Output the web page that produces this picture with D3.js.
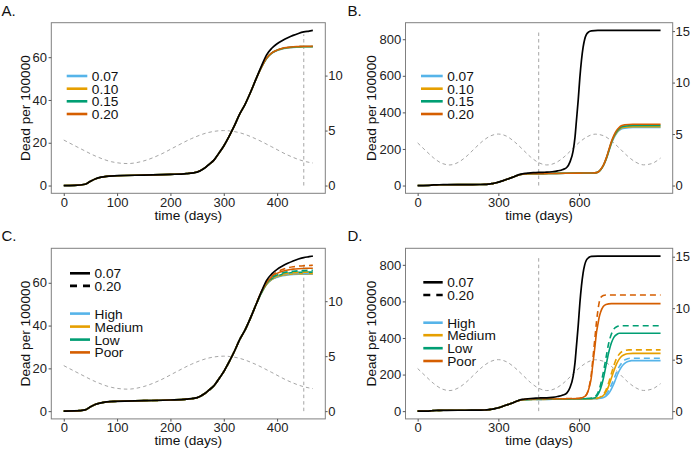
<!DOCTYPE html>
<html><head><meta charset="utf-8">
<script src="https://cdn.jsdelivr.net/npm/d3@7"></script>
<style>body{margin:0;background:#fff} svg text{font-family:"Liberation Sans",Arial,Helvetica,sans-serif}</style>
</head><body><svg id="c" width="692" height="451"></svg>
<script>
// ---------------- DATA ----------------
// common early part of all death curves (days, dead per 100000)
const tEarly = [0,20,40,50,60,70,80,100,150,200,230,250,263,272,282,290,300,310,320,330,340,350,360];
const deadEarly = [0,0.1,0.6,2,3.2,3.9,4.3,4.6,4.9,5.2,5.6,6.3,8,9.8,12,14.8,18.5,23,28,33.5,38,43.5,49.5];
// days 370-467
const tLate = [370,380,390,400,410,420,430,440,450,460,467];
const blackLate = [55.5,61,64.2,66.3,67.8,69.1,70.2,71.1,71.8,72.2,72.5];
// black, after 467
const tLong = [480,500,520,540,555,566,578,585,590,597,603,609,615,621,627,636,646,670,700,800,903];
const blackLong = [73,75.5,80,88,100,128,190,265,350,470,590,685,755,800,825,840,846,848,848,848,848];

// Panel A / B: rates 0.07, 0.10, 0.15, 0.20 (days 370-467)
const rates = ["0.07","0.10","0.15","0.20"];
const aR07 = [55,59.3,61.8,63.1,63.9,64.3,64.6,64.7,64.8,64.8,64.8];
const aR10 = [55,59.4,61.9,63.2,64,64.4,64.7,64.8,64.9,64.9,64.9];
const aR15 = [55,59.4,62,63.3,64.1,64.5,64.8,64.9,65,65,65];
const aR20 = [55,59.5,62,63.3,64.2,64.6,64.9,65,65.1,65.1,65.2];
// Panel B tails after 467
const tBRise = [500,550,600,650,665,675,683,692,702,711,720,730,739,748,757,770,800,903];
const bR07 = [66,67,68,69,70.5,78,91,113,148,188,228,262,285,300,309,314,317,317];
const bR10 = [66,67,68,69,70.5,78,92,114,150,191,232,267,289,304,314,319,322,322];
const bR15 = [66,67,68,69,70.6,78.3,92,115,152,193,235,271,294,310,320,325,328,328];
const bR20 = [66,67,68,69,70.6,78.6,93,116,154,197,239,276,300,316,327,332,335,335];

// Panel C / D: categories, solid = 0.07, dashed = 0.20 (days 370-467)
const cats = ["High","Medium","Low","Poor"];
const cHighS = [55,59.2,61.5,62.6,63.3,63.7,63.9,64,64,64,64];
const cHighD = [55,59.3,61.7,62.9,63.7,64.1,64.3,64.4,64.5,64.5,64.5];
const cMedS  = [55,59.2,61.6,62.8,63.5,63.9,64.1,64.2,64.3,64.3,64.3];
const cMedD  = [55,59.4,61.9,63.2,64,64.4,64.7,64.8,64.9,64.9,64.9];
const cLowS  = [55,59.4,61.9,63.2,64,64.5,64.8,64.9,65,65,65];
const cLowD  = [55,59.6,62.3,63.7,64.6,65.1,65.4,65.6,65.7,65.8,65.8];
const cPoorS = [55.5,59.8,62.8,64.4,65.4,66,66.4,66.6,66.7,66.8,66.8];
const cPoorD = [55.5,60,63.2,65,66.2,67,67.5,67.8,68,68.1,68.2];
// Panel D tails after 467
const dHighS_t = [500,550,600,650,675,685,695,705,715,725,735,745,755,765,775,785,795,903];
const dHighS   = [65,66,67,68,69.5,72,77,88,107,135,170,207,235,255,267,273,276,276];
const dHighD_t = [500,550,600,650,670,680,690,700,710,720,730,740,750,760,770,780,790,903];
const dHighD   = [65.5,66.5,67.5,68.5,70,73,79,90,112,142,177,215,245,266,280,286,289,289];
const dMedS_t  = [500,550,600,650,660,670,680,690,700,710,720,730,740,750,760,770,780,800,903];
const dMedS    = [65,66,67,68,69.5,70.5,76,85,104,137,180,222,260,286,302,310,314,316,316];
const dMedD_t  = [500,550,600,650,670,680,690,700,710,720,730,740,750,760,770,785,903];
const dMedD    = [65.5,66.5,67.5,68.5,71,78,90,115,155,205,252,290,313,326,332,335,335];
const dLowS_t  = [500,550,600,640,650,660,670,680,690,700,710,720,730,740,750,903];
const dLowS    = [65.5,66.5,67.5,69,70,73,90,123,176,248,319,372,405,419,426,426];
const dLowD_t  = [500,550,600,640,650,660,670,680,690,700,710,720,730,740,755,903];
const dLowD    = [66,67,68,69.5,72,80,100,145,210,290,370,420,450,462,467,467];
const dPoorS_t = [500,550,600,620,630,640,645,650,655,660,665,670,675,680,690,700,720,903];
const dPoorS   = [66.5,67.5,69,79,95,142,178,240,303,365,432,474,515,541,572,583,588,588];
const dPoorD_t = [500,550,600,620,630,640,645,650,655,660,665,670,675,680,690,700,903];
const dPoorD   = [67.5,68.5,70,80,98,150,195,265,340,415,490,550,595,620,632,635,635];

// seasonal curve (right axis)
const seasonT = [0,30,60,90,120,150,180,210,240,270,300,330,360,390,420,450,467,480,510,540,570,600,630,660,690,720,750,780,810,840,870,900,903];
const seasonV = [4.14,3.39,2.67,2.16,2.00,2.24,2.80,3.55,4.28,4.81,5.00,4.80,4.25,3.52,2.77,2.22,2.05,2.00,2.17,2.68,3.41,4.17,4.74,4.99,4.85,4.35,3.63,2.87,2.28,2.01,2.13,2.61,2.67];

const interventionDay = 450;
const vlineTop = {A:70.7, B:847, C:69, D:845};
const xTicksShort = [0,100,200,300,400];
const xTicksLong = [0,300,600];
const yTicksShort = [0,20,40,60];
const yTicksLong = [0,200,400,600,800];
const rTicksShort = [0,5,10];
const rTicksLong = [0,5,10,15];

// ---------------- STYLE ----------------
const colors = ["#56B4E9","#E69F00","#009E73","#D55E00"];
const FONT = 13;

const zip = (ts, vs) => ts.map((t,i)=>[t, vs[i]]);
const svg = d3.select("#c");

function panel(o) {
  const g = svg.append("g");
  const maxT = d3.max(o.black, d=>d[0]);
  const maxV = d3.max(o.black, d=>d[1]);
  const x = d3.scaleLinear().domain([-0.05*maxT, 1.05*maxT]).range([o.x0, o.x1]);
  const y = d3.scaleLinear().domain([-0.05*maxV, 1.05*maxV]).range([o.y1, o.y0]);
  const yr = d3.scaleLinear().domain([y.domain()[0]/o.k, y.domain()[1]/o.k]).range([o.y1, o.y0]);
  const line = d3.line().x(d=>x(d[0])).y(d=>y(d[1])).curve(d3.curveMonotoneX);
  const lineR = d3.line().x(d=>x(d[0])).y(d=>yr(d[1])).curve(d3.curveMonotoneX);

  // seasonal
  const season = zip(seasonT, seasonV).filter(d=>d[0] <= maxT + 0.5);
  g.append("path").attr("d", lineR(season)).attr("fill","none")
    .attr("stroke","#a6a6a6").attr("stroke-width",1).attr("stroke-dasharray","3.5,3");
  // intervention line
  g.append("line").attr("x1",x(interventionDay)).attr("x2",x(interventionDay))
    .attr("y1",y(0)).attr("y2",y(o.vTop))
    .attr("stroke","#a6a6a6").attr("stroke-width",1).attr("stroke-dasharray","3.5,3");
  // colored series
  o.series.forEach(s=>{
    g.append("path").attr("d", line(s.data)).attr("fill","none")
      .attr("stroke", s.color).attr("stroke-width",1.6)
      .attr("stroke-dasharray", s.dash ? "6,4" : null);
  });
  // black
  g.append("path").attr("d", line(o.black)).attr("fill","none")
    .attr("stroke","#000").attr("stroke-width",1.7);

  // box
  g.append("rect").attr("x",o.x0).attr("y",o.y0).attr("width",o.x1-o.x0).attr("height",o.y1-o.y0)
    .attr("fill","none").attr("stroke","#808080").attr("stroke-width",1);

  const styleAxis = (a)=>{
    a.select(".domain").remove();
    a.selectAll("line").attr("stroke","#555");
    a.selectAll("text").attr("font-size",FONT).attr("fill","#222")
      .attr("font-family",'"Liberation Sans",Arial,sans-serif');
  };
  g.append("g").attr("transform",`translate(0,${o.y1})`)
    .call(d3.axisBottom(x).tickValues(o.xTicks).tickSize(2.7).tickPadding(1.4).tickFormat(d3.format("d")))
    .call(styleAxis);
  g.append("g").attr("transform",`translate(${o.x0},0)`)
    .call(d3.axisLeft(y).tickValues(o.yTicks).tickSize(2.7).tickPadding(1.6).tickFormat(d3.format("d")))
    .call(styleAxis);
  g.append("g").attr("transform",`translate(${o.x1},0)`)
    .call(d3.axisRight(yr).tickValues(o.rTicks).tickSize(2.3).tickPadding(0.6).tickFormat(d3.format("d")))
    .call(styleAxis);

  // titles
  g.append("text").attr("x",(o.x0+o.x1)/2).attr("y",o.oy+219.5).attr("text-anchor","middle")
    .attr("font-size",13.7).attr("fill","#111").text("time (days)");
  g.append("text").attr("transform",`translate(${o.ox+30},${(o.y0+o.y1)/2}) rotate(-90)`)
    .attr("text-anchor","middle").attr("font-size",13.7).attr("fill","#111").text("Dead per 100000");
  g.append("text").attr("x",o.ox+1.5).attr("y",o.oy+15.5).attr("font-size",15).attr("fill","#111").text(o.label);

  // legend
  o.legend.forEach(l=>{
    g.append("line").attr("x1",o.ox+o.lx0).attr("x2",o.ox+o.lx1)
      .attr("y1",o.oy+l.y).attr("y2",o.oy+l.y)
      .attr("stroke",l.color).attr("stroke-width",2.6)
      .attr("stroke-dasharray", l.dash ? "7,6" : null);
    g.append("text").attr("x",o.ox+o.lx1+4.5).attr("y",o.oy+l.y+4.9)
      .attr("font-size",13.7).attr("fill","#111").text(l.text);
  });
}

// ---------------- BUILD ----------------
const blackShort = zip(tEarly.concat(tLate), deadEarly.concat(blackLate));
const blackFull = zip(tEarly.concat(tLate, tLong), deadEarly.concat(blackLate, blackLong));
const aTails = [aR07,aR10,aR15,aR20];
const bTails = [bR07,bR10,bR15,bR20];
const cTailsS = [cHighS,cMedS,cLowS,cPoorS];
const cTailsD = [cHighD,cMedD,cLowD,cPoorD];
const dTailsS = [[dHighS_t,dHighS],[dMedS_t,dMedS],[dLowS_t,dLowS],[dPoorS_t,dPoorS]];
const dTailsD = [[dHighD_t,dHighD],[dMedD_t,dMedD],[dLowD_t,dLowD],[dPoorD_t,dPoorD]];
const tShort = tEarly.concat(tLate);

const legRowsAB = [76, 88.7, 101.3, 114];

panel({label:"A.", ox:0, oy:0, x0:51.3, x1:325.3, y0:22.7, y1:193.3, k:5.14,
  black: blackShort, vTop: vlineTop.A,
  xTicks: xTicksShort, yTicks: yTicksShort, rTicks: rTicksShort,
  series: aTails.map((t,i)=>({color:colors[i], data: zip(tShort, deadEarly.concat(t))})),
  lx0:66.7, lx1:87.3,
  legend: rates.map((r,i)=>({text:r, color:colors[i], y:legRowsAB[i]}))
});
panel({label:"B.", ox:346, oy:0, x0:405.5, x1:672.7, y0:22.7, y1:193.3, k:56.3,
  black: blackFull, vTop: vlineTop.B,
  xTicks: xTicksLong, yTicks: yTicksLong, rTicks: rTicksLong,
  series: bTails.map((t,i)=>({color:colors[i], data: zip(tShort.concat(tBRise), deadEarly.concat(aTails[i], t))})),
  lx0:75, lx1:96.7,
  legend: rates.map((r,i)=>({text:r, color:colors[i], y:legRowsAB[i]}))
});
const OY = 225.6;
const legC = [{text:"0.07",color:"#000",y:47.7},{text:"0.20",color:"#000",dash:true,y:60.3}]
  .concat(cats.map((c,i)=>({text:c,color:colors[i],y:[88,101,114,126.8][i]})));
const legD = [{text:"0.07",color:"#000",y:56.7},{text:"0.20",color:"#000",dash:true,y:69.4}]
  .concat(cats.map((c,i)=>({text:c,color:colors[i],y:[97.1,109.6,122.6,135.4][i]})));
panel({label:"C.", ox:0, oy:OY, x0:51.3, x1:325.3, y0:22.7+OY, y1:193.3+OY, k:5.14,
  black: blackShort, vTop: vlineTop.C,
  xTicks: xTicksShort, yTicks: yTicksShort, rTicks: rTicksShort,
  series: cTailsS.map((t,i)=>({color:colors[i], data: zip(tShort, deadEarly.concat(t))}))
    .concat(cTailsD.map((t,i)=>({color:colors[i], dash:true, data: zip(tShort, deadEarly.concat(t))}))),
  lx0:70, lx1:90,
  legend: legC
});
panel({label:"D.", ox:346, oy:OY, x0:405.5, x1:672.7, y0:22.7+OY, y1:193.3+OY, k:56.3,
  black: blackFull, vTop: vlineTop.D,
  xTicks: xTicksLong, yTicks: yTicksLong, rTicks: rTicksLong,
  series: dTailsS.map((p,i)=>({color:colors[i], data: zip(tShort.concat(p[0]), deadEarly.concat(cTailsS[i], p[1]))}))
    .concat(dTailsD.map((p,i)=>({color:colors[i], dash:true, data: zip(tShort.concat(p[0]), deadEarly.concat(cTailsD[i], p[1]))}))),
  lx0:77.3, lx1:96.7,
  legend: legD
});
</script></body></html>
